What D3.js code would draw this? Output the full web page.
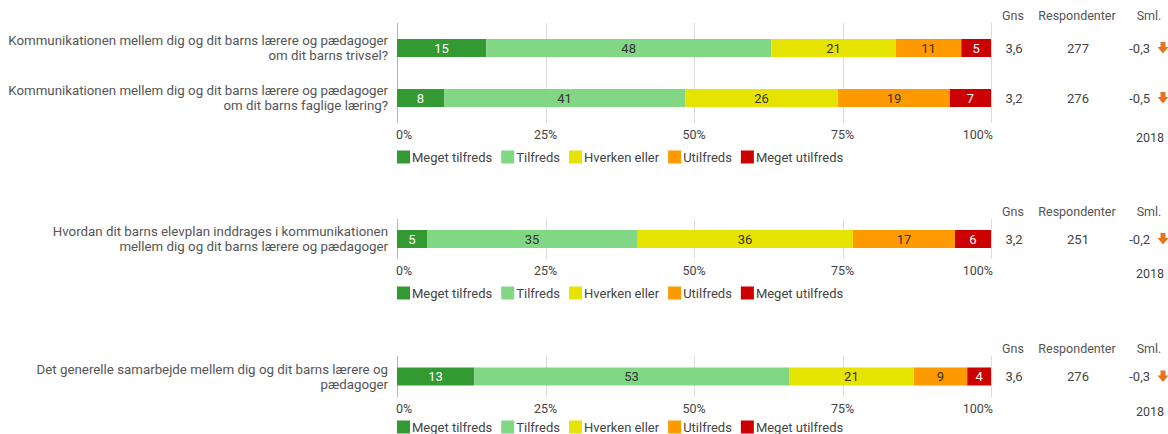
<!DOCTYPE html>
<html>
<head>
<meta charset="utf-8">
<script src="https://cdn.jsdelivr.net/npm/d3@7"></script>
<style>
  body { margin: 0; background: #fff; }
  svg { font-family: Roboto, sans-serif; }
</style>
</head>
<body>
<svg id="chart" width="1168" height="434"></svg>
<script>
// Data
var categories = ["Meget tilfreds", "Tilfreds", "Hverken eller", "Utilfreds", "Meget utilfreds"];
var colors = ["#339933", "#82d785", "#e6e300", "#ff9900", "#cc0000"];
var textColors = ["#fff", "#333", "#333", "#333", "#fff"];

var questions = [
  "Kommunikationen mellem dig og dit barns lærere og pædagoger om dit barns trivsel?",
  "Kommunikationen mellem dig og dit barns lærere og pædagoger om dit barns faglige læring?",
  "Hvordan dit barns elevplan inddrages i kommunikationen mellem dig og dit barns lærere og pædagoger",
  "Det generelle samarbejde mellem dig og dit barns lærere og pædagoger"
];
var values = [
  [15, 48, 21, 11, 5],
  [8, 41, 26, 19, 7],
  [5, 35, 36, 17, 6],
  [13, 53, 21, 9, 4]
];
var gns = ["3,6", "3,2", "3,2", "3,6"];
var respondents = [277, 276, 251, 276];
var sml = ["-0,3", "-0,5", "-0,2", "-0,3"];
var panels = [[0, 1], [2], [3]];
var tickValues = [0, 25, 50, 75, 100];
var compareYear = "2018";

// layout
var plotLeft = 397, plotRight = 991;
var panelTops = [23, 219, 356];
var panelHeights = [100, 40, 41];
var legendOffset = [34, 34, 30];
var barHeight = 18;

var svg = d3.select("#chart");
var x = d3.scaleLinear().domain([0, 100]).range([plotLeft, plotRight]);

function wrap(textSel, width) {
  textSel.each(function() {
    var text = d3.select(this);
    var words = text.text().split(/\s+/);
    var lines = [], line = [];
    text.text(null);
    var tmp = text.append("tspan");
    words.forEach(function(w) {
      line.push(w);
      tmp.text(line.join(" "));
      if (tmp.node().getComputedTextLength() > width && line.length > 1) {
        line.pop();
        lines.push(line.join(" "));
        line = [w];
      }
    });
    lines.push(line.join(" "));
    tmp.remove();
    var x0 = text.attr("x");
    var off = -(lines.length - 1) * 0.56;
    lines.forEach(function(l, i) {
      text.append("tspan").attr("x", x0).attr("dy", i === 0 ? (off + 0.35) + "em" : "1.12em").text(l);
    });
  });
}

panels.forEach(function(rows, p) {
  var top = panelTops[p], h = panelHeights[p];
  var g = svg.append("g");
  var y = d3.scaleBand().domain(rows).range([top, top + h]);

  // gridlines
  g.selectAll(".grid").data(tickValues).enter().append("line")
    .attr("x1", function(d) { return Math.round(x(d)) + 0.5; })
    .attr("x2", function(d) { return Math.round(x(d)) + 0.5; })
    .attr("y1", top).attr("y2", top + h)
    .attr("stroke", function(d) { return d === 0 ? "#b5b5b5" : "#dcdcdc"; })
    .attr("stroke-width", 1);

  // tick labels
  g.selectAll(".tick").data(tickValues).enter().append("text")
    .attr("x", function(d) { return d === 100 ? x(d) + 2 : (d === 0 ? x(d) - 1 : x(d)); })
    .attr("y", top + h + 12)
    .attr("dy", "0.35em")
    .attr("text-anchor", function(d) { return d === 0 ? "start" : (d === 100 ? "end" : "middle"); })
    .attr("font-size", 12.5)
    .attr("fill", "#444")
    .text(function(d) { return d + "%"; });

  rows.forEach(function(r) {
    var vals = values[r];
    var total = d3.sum(vals);
    var stack = [];
    var acc = 0;
    vals.forEach(function(v, i) {
      stack.push({ v: v, i: i, x0: acc / total * 100, x1: (acc + v) / total * 100 });
      acc += v;
    });
    var cy = y(r) + y.bandwidth() / 2;

    var seg = g.selectAll(".seg" + r).data(stack).enter().append("g");
    seg.append("rect")
      .attr("x", function(d) { return x(d.x0); })
      .attr("width", function(d) { return x(d.x1) - x(d.x0); })
      .attr("y", cy - barHeight / 2)
      .attr("height", barHeight)
      .attr("fill", function(d) { return colors[d.i]; });
    seg.append("text")
      .attr("x", function(d) { return (x(d.x0) + x(d.x1)) / 2; })
      .attr("y", cy)
      .attr("dy", "0.36em")
      .attr("text-anchor", "middle")
      .attr("font-size", 13)
      .attr("fill", function(d) { return textColors[d.i]; })
      .text(function(d) { return d.v; });

    // question label
    g.append("text")
      .attr("x", 388)
      .attr("y", cy)
      .attr("text-anchor", "end")
      .attr("font-size", 13.3)
      .attr("fill", "#555")
      .text(questions[r])
      .call(wrap, 380);

    // right-hand columns
    g.append("text").attr("x", 1014).attr("y", cy).attr("dy", "0.35em")
      .attr("text-anchor", "middle").attr("font-size", 13).attr("fill", "#444").text(gns[r]);
    g.append("text").attr("x", 1078).attr("y", cy).attr("dy", "0.35em")
      .attr("text-anchor", "middle").attr("font-size", 13).attr("fill", "#444").text(respondents[r]);
    g.append("text").attr("x", 1150).attr("y", cy).attr("dy", "0.35em")
      .attr("text-anchor", "end").attr("font-size", 13).attr("fill", "#444").text(sml[r]);
    // down arrow
    g.append("path")
      .attr("transform", "translate(1163," + cy + ")")
      .attr("d", "M-2.5,-6 L2.5,-6 L2.5,-1 L5.5,-1 L0,5.5 L-5.5,-1 L-2.5,-1 Z")
      .attr("fill", "#e8731f");
  });

  // headers
  var hy = top - 7;
  [["Gns", 1013], ["Respondenter", 1077], ["Sml.", 1149]].forEach(function(hd) {
    g.append("text").attr("x", hd[1]).attr("y", hy).attr("dy", "0.35em")
      .attr("text-anchor", "middle").attr("font-size", 12.5).attr("fill", "#555").text(hd[0]);
  });
  g.append("text").attr("x", 1150).attr("y", top + h + 15).attr("dy", "0.35em")
    .attr("text-anchor", "middle").attr("font-size", 12.5).attr("fill", "#444").text(compareYear);

  // legend
  var ly = top + h + legendOffset[p];
  var lx = plotLeft;
  categories.forEach(function(c, i) {
    g.append("rect").attr("x", lx).attr("y", ly - 6.5).attr("width", 13).attr("height", 13)
      .attr("fill", colors[i]);
    var t = g.append("text").attr("x", lx + 15).attr("y", ly).attr("dy", "0.35em")
      .attr("font-size", 13).attr("fill", "#444").text(c);
    lx += 15 + t.node().getComputedTextLength() + 9;
  });
});
</script>
</body>
</html>
